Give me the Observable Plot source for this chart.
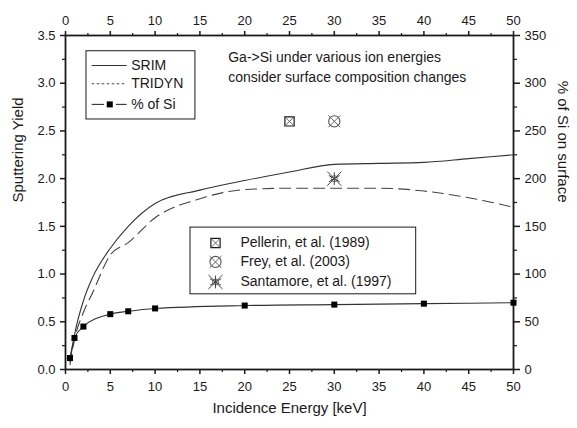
<!DOCTYPE html>
<html><head><meta charset="utf-8">
<script src="https://cdn.jsdelivr.net/npm/d3@7"></script>
<script src="https://cdn.jsdelivr.net/npm/@observablehq/plot@0.6"></script>
<style>body{margin:0;background:#fff;} #chart{width:577px;height:428px}</style>
</head><body><div id="chart"></div>
<script>
// ---- data ----
const energy = [0.5, 1, 2, 3, 5, 7, 10, 15, 20, 25, 30, 35, 40, 45, 50];
const srimYield = [0.08, 0.36, 0.72, 0.96, 1.27, 1.5, 1.74, 1.88, 1.98, 2.07, 2.15, 2.16, 2.17, 2.21, 2.25];
const tridynYield = [0.05, 0.31, 0.6, 0.8, 1.2, 1.33, 1.59, 1.79, 1.885, 1.9, 1.9, 1.9, 1.87, 1.8, 1.7];
const siEnergy = [0.5, 1, 2, 5, 7, 10, 20, 30, 40, 50];
const siPercent = [12, 33, 45, 58, 61, 64, 67, 68, 69, 70];
const refNames = ["Pellerin, et al. (1989)", "Frey, et al. (2003)", "Santamore, et al. (1997)"];
const refEnergy = [25, 30, 30];
const refYield = [2.6, 2.6, 2.0];
const xMajor = [0, 5, 10, 15, 20, 25, 30, 35, 40, 45, 50];
const xMinor = [2.5, 7.5, 12.5, 17.5, 22.5, 27.5, 32.5, 37.5, 42.5, 47.5];
const yMajor = [0, 0.5, 1, 1.5, 2, 2.5, 3, 3.5];
const yMinor = [0.25, 0.75, 1.25, 1.75, 2.25, 2.75, 3.25];
const note = ["Ga->Si under various ion energies", "consider surface composition changes"];

// ---- tables ----
const yieldRows = energy.map((e, i) => ({e, srim: srimYield[i], tridyn: tridynYield[i]}));
const siRows = siEnergy.map((e, i) => ({e, v: siPercent[i] / 100}));
const refRows = refNames.map((n, i) => ({n, e: refEnergy[i], y: refYield[i]}));

// legend layout (in data units of the axes)
const lg1 = {x1: 2.34, x2: 14.5, y1: 2.62, y2: 3.335, lx1: 2.98, lx2: 6.88, tx: 7.33, rows: [3.186, 2.995, 2.778]};
const lg2 = {x1: 13.95, x2: 39.14, y1: 0.788, y2: 1.487, sx: 16.74, tx: 19.53, rows: [1.326, 1.127, 0.917]};

const ink = "#1a1a1a";
const font = "'Liberation Sans', Arial, sans-serif";

function refMarks(data, xf, yf) {
  // Pellerin: square with X; Frey: circle with X; Santamore: star
  const d0 = data.filter((d, i) => i === 0), d1 = data.filter((d, i) => i === 1), d2 = data.filter((d, i) => i === 2);
  return [
    Plot.dot(d0, {x: xf, y: yf, symbol: "square", r: 5.2, stroke: ink, strokeWidth: 1.2, fill: "white"}),
    Plot.dot(d0, {x: xf, y: yf, symbol: "times", r: 4.6, stroke: "#555", strokeWidth: 0.9}),
    Plot.dot(d1, {x: xf, y: yf, symbol: "circle", r: 5.6, stroke: "#555", strokeWidth: 1.1, fill: "white"}),
    Plot.dot(d1, {x: xf, y: yf, symbol: "times", r: 5.5, stroke: "#555", strokeWidth: 0.9}),
    Plot.dot(d2, {x: xf, y: yf, symbol: "asterisk", r: 6, stroke: "#444", strokeWidth: 1}),
    Plot.dot(d2, {x: xf, y: yf, symbol: "times", r: 6.5, stroke: "#444", strokeWidth: 1}),
    Plot.dot(d2, {x: xf, y: yf, symbol: "circle", r: 3, stroke: "#444", strokeWidth: 0.8, fill: "none"})
  ];
}

const legendRefRows = refNames.map((n, i) => ({n, e: lg2.sx, y: lg2.rows[i]}));

const chart = Plot.plot({
  width: 577, height: 428,
  marginLeft: 65, marginRight: 64, marginTop: 35, marginBottom: 59,
  style: {fontFamily: font, fontSize: "13px", color: ink, background: "#fff", overflow: "visible"},
  x: {domain: [0, 50]},
  y: {domain: [0, 3.5]},
  marks: [
    // axes
    Plot.axisX({anchor: "bottom", ticks: xMajor, tickSize: 5, tickPadding: 7, strokeWidth: 1.5, label: null, fontSize: 13}),
    Plot.axisX({anchor: "bottom", ticks: xMinor, tickSize: 3, tickFormat: () => "", strokeWidth: 1.2, label: null}),
    Plot.axisX({anchor: "top", ticks: xMajor, tickSize: 5, tickPadding: 6, strokeWidth: 1.5, label: null, fontSize: 13}),
    Plot.axisX({anchor: "top", ticks: xMinor, tickSize: 3, tickFormat: () => "", strokeWidth: 1.2, label: null}),
    Plot.axisY({anchor: "left", ticks: yMajor, tickSize: 5, tickPadding: 5, strokeWidth: 1.5, tickFormat: d3.format(".1f"), label: null, fontSize: 13}),
    Plot.axisY({anchor: "left", ticks: yMinor, tickSize: 3, tickFormat: () => "", strokeWidth: 1.2, label: null}),
    Plot.axisY({anchor: "right", ticks: yMajor, tickSize: 6, tickPadding: 5, strokeWidth: 1.5, tickFormat: d => String(Math.round(d * 100)), label: null, fontSize: 13}),
    Plot.axisY({anchor: "right", ticks: yMinor, tickSize: 3, tickFormat: () => "", strokeWidth: 1.2, label: null}),
    Plot.frame({stroke: ink, strokeWidth: 1.8}),
    // axis titles
    Plot.text(["Sputtering Yield"], {frameAnchor: "left", dx: -47, rotate: -90, fontSize: 15, fill: ink}),
    Plot.text(["% of Si on surface"], {frameAnchor: "right", dx: 49, rotate: 90, fontSize: 15, fill: ink}),
    Plot.text(["Incidence Energy [keV]"], {frameAnchor: "bottom", dy: 43, fontSize: 15, fill: ink}),
    // series
    Plot.line(yieldRows, {x: "e", y: "srim", curve: "monotone-x", stroke: "#333", strokeWidth: 1.1}),
    Plot.line(yieldRows, {x: "e", y: "tridyn", curve: "monotone-x", stroke: "#444", strokeWidth: 1.1, strokeDasharray: "11,6"}),
    Plot.line(siRows, {x: "e", y: "v", curve: "monotone-x", stroke: "#333", strokeWidth: 1.1}),
    Plot.dot(siRows, {x: "e", y: "v", symbol: "square", r: 3.4, fill: "#000", stroke: "none"}),
    ...refMarks(refRows, "e", "y"),
    // legend 1
    Plot.rect([lg1], {x1: "x1", x2: "x2", y1: "y1", y2: "y2", fill: "white", stroke: ink, strokeWidth: 1}),
    Plot.ruleY([lg1.rows[0]], {x1: lg1.lx1, x2: lg1.lx2, stroke: "#333", strokeWidth: 1.1}),
    Plot.ruleY([lg1.rows[1]], {x1: lg1.lx1, x2: lg1.lx2, stroke: "#444", strokeWidth: 1.1, strokeDasharray: "2.5,2.5"}),
    Plot.ruleY([lg1.rows[2]], {x1: lg1.lx1, x2: 4.35, stroke: "#333", strokeWidth: 1.1}),
    Plot.ruleY([lg1.rows[2]], {x1: 5.69, x2: lg1.lx2, stroke: "#333", strokeWidth: 1.1}),
    Plot.dot([lg1.rows[2]], {x: 4.94, y: d => d, symbol: "square", r: 3.4, fill: "#000"}),
    Plot.text(["SRIM", "TRIDYN", "% of Si"], {x: lg1.tx, y: (d, i) => lg1.rows[i], textAnchor: "start", fontSize: 14, fill: ink}),
    // note
    Plot.text(note, {x: 18.16, y: (d, i) => [3.267, 3.064][i], textAnchor: "start", fontSize: 14, fill: ink}),
    // legend 2
    Plot.rect([lg2], {x1: "x1", x2: "x2", y1: "y1", y2: "y2", fill: "white", stroke: ink, strokeWidth: 1}),
    ...refMarks(legendRefRows, "e", "y"),
    Plot.text(legendRefRows, {x: lg2.tx, y: "y", text: "n", textAnchor: "start", fontSize: 14, fill: ink})
  ]
});
document.getElementById("chart").appendChild(chart);
</script>
</body></html>
